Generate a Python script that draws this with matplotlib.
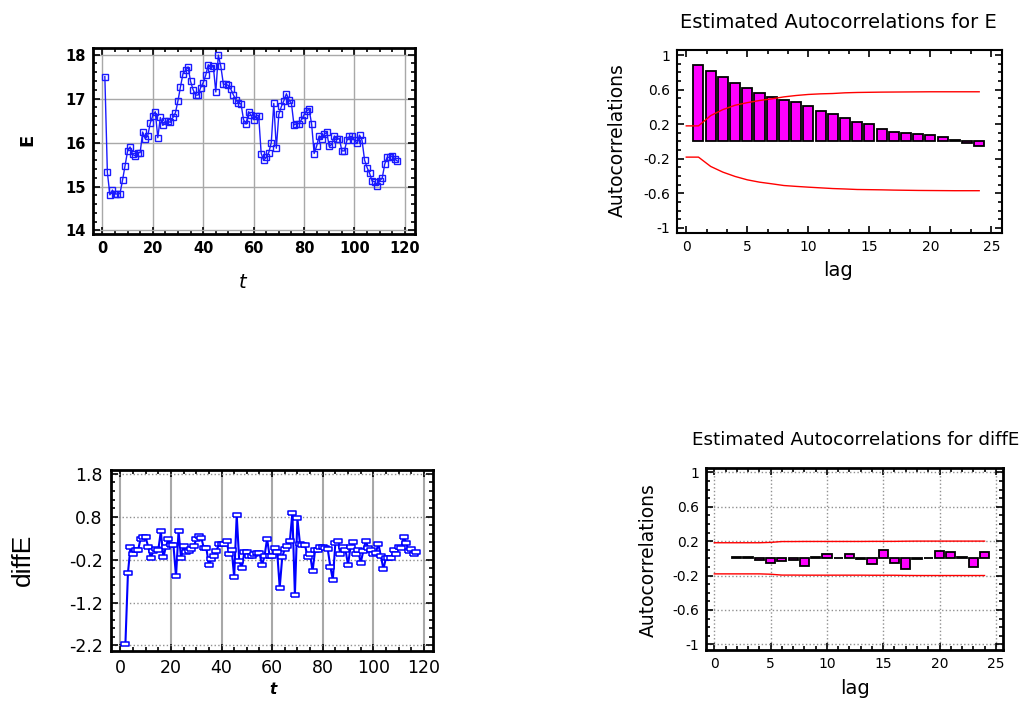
import numpy as np
import matplotlib
matplotlib.use("Agg")
import matplotlib.pyplot as plt
from matplotlib.ticker import MultipleLocator, AutoMinorLocator

plt.rcParams['font.family'] = ['DejaVu Sans']
plt.rcParams['axes.unicode_minus'] = False

# series E (t = 1..117)
E = [17.50, 15.32, 14.81, 14.92, 14.83, 14.83, 14.84, 15.14, 15.47, 15.80,
     15.90, 15.73, 15.70, 15.77, 15.77, 16.24, 16.09, 16.15, 16.44, 16.61,
     16.70, 16.11, 16.57, 16.39, 16.49, 16.48, 16.46, 16.57, 16.68, 16.95,
     17.27, 17.57, 17.64, 17.72, 17.39, 17.20, 17.08, 17.08, 17.25, 17.36,
     17.53, 17.77, 17.70, 17.74, 17.15, 17.99, 17.73, 17.33, 17.32, 17.30,
     17.21, 17.08, 16.97, 16.89, 16.88, 16.52, 16.42, 16.70, 16.62, 16.52,
     16.61, 16.61, 15.75, 15.60, 15.66, 15.77, 16.00, 16.89, 15.87, 16.64,
     16.82, 16.95, 17.11, 16.97, 16.89, 16.40, 16.43, 16.43, 16.52, 16.63,
     16.72, 16.76, 16.42, 15.75, 15.92, 16.15, 16.07, 16.19, 16.23, 15.91,
     15.96, 16.15, 16.07, 16.09, 15.81, 15.81, 16.05, 16.14, 16.14, 16.05,
     15.98, 16.17, 16.05, 15.60, 15.43, 15.30, 15.12, 15.11, 15.02, 15.13,
     15.19, 15.51, 15.67, 15.66, 15.70, 15.62, 15.58]
t_E = np.arange(1, len(E) + 1)

# series diffE (t = 2..117)
diffE = [-2.16, -0.51, 0.10, -0.08, 0.02, 0.02, 0.29, 0.32, 0.32, 0.10,
         -0.16, -0.01, 0.05, 0.03, 0.46, -0.15, 0.10, 0.28, 0.14, 0.13,
         -0.59, 0.46, -0.16, 0.11, -0.03, -0.01, 0.05, 0.11, 0.27, 0.35,
         0.31, 0.07, 0.07, -0.33, -0.18, -0.11, 0.01, 0.16, 0.16, 0.16,
         0.24, -0.08, 0.03, -0.61, 0.84, -0.24, -0.39, -0.03, -0.02, -0.12,
         -0.12, -0.08, -0.04, -0.04, -0.33, -0.12, 0.29, -0.11, -0.11, 0.07,
         -0.02, -0.85, -0.14, 0.05, 0.11, 0.23, 0.89, -1.02, 0.76, 0.17,
         0.14, 0.14, -0.14, -0.08, -0.47, 0.03, 0.03, 0.10, 0.10, 0.07,
         0.04, -0.36, -0.67, 0.19, 0.24, -0.08, 0.10, 0.03, -0.32, 0.10,
         0.21, -0.08, 0.03, -0.28, -0.01, 0.24, 0.07, 0.02, -0.07, -0.04,
         0.17, -0.12, -0.42, -0.16, -0.16, -0.16, 0.02, -0.08, 0.10, 0.07,
         0.33, 0.19, -0.01, 0.05, -0.08, -0.02]
t_diff = np.arange(2, len(diffE) + 2)

# autocorrelations of E
lags_E = np.arange(1, 25)
acf_E = [0.89, 0.82, 0.746, 0.676, 0.614, 0.564, 0.521, 0.479, 0.452, 0.409,
         0.359, 0.320, 0.273, 0.227, 0.200, 0.145, 0.114, 0.103, 0.091, 0.080,
         0.052, 0.021, -0.020, -0.048]
lim_lags_E = np.arange(0, 25)
upper_E = [0.181, 0.181, 0.30, 0.37, 0.42, 0.45, 0.475, 0.494, 0.517, 0.533,
           0.545, 0.552, 0.556, 0.564, 0.568, 0.570, 0.572, 0.573, 0.574, 0.575,
           0.576, 0.576, 0.576, 0.576, 0.576]
lower_E = [-0.181, -0.181, -0.289, -0.355, -0.405, -0.444, -0.471, -0.490, -0.510, -0.520,
           -0.529, -0.537, -0.545, -0.550, -0.556, -0.558, -0.560, -0.563, -0.565, -0.567,
           -0.568, -0.569, -0.570, -0.570, -0.570]

# autocorrelations of diffE
lags_d = np.arange(2, 25)
acf_d = [0.017, 0.015, -0.02, -0.05, -0.035, -0.025, -0.09, 0.018, 0.045, 0.002,
         0.045, -0.003, -0.07, 0.10, -0.05, -0.13, -0.01, -0.002, 0.09, 0.07,
         0.01, -0.10, 0.075]
lim_lags_d = np.arange(0, 25)
upper_d = [0.181, 0.181, 0.181, 0.181, 0.181, 0.185, 0.195, 0.195, 0.196, 0.196,
           0.196, 0.196, 0.196, 0.196, 0.197, 0.197, 0.197, 0.199, 0.200, 0.200,
           0.200, 0.200, 0.200, 0.200, 0.200]
lower_d = [-v for v in upper_d]

W, H = 1026, 705
fig = plt.figure(figsize=(W / 100, H / 100), dpi=100)


def box(l, t, r, b):
    # pixel box -> figure fraction rect
    return [l / W, 1 - b / H, (r - l) / W, (b - t) / H]


def ftext(x, y, s, **kw):
    fig.text(x / W, 1 - y / H, s, ha='center', va='center', **kw)


def frame(ax, lw):
    for sp in ax.spines.values():
        sp.set_linewidth(lw)
    ax.tick_params(which='both', direction='in', top=True, right=True, width=1.2)
    ax.tick_params(which='major', length=5)
    ax.tick_params(which='minor', length=3)


# --- E time series
ax1 = fig.add_axes(box(93, 48, 415, 234))
ax1.plot(t_E, E, color='#1a1aff', lw=1, marker='s', ms=4.5, mfc='none', mec='#1a1aff', mew=1)
ax1.set_xlim(-3.7, 124)
ax1.set_ylim(13.92, 18.15)
ax1.xaxis.set_major_locator(MultipleLocator(20))
ax1.yaxis.set_major_locator(MultipleLocator(1))
ax1.xaxis.set_minor_locator(AutoMinorLocator(4))
ax1.yaxis.set_minor_locator(AutoMinorLocator(5))
ax1.grid(True, color='#a8a8a8', lw=1)
ax1.set_axisbelow(True)
frame(ax1, 2)
ax1.tick_params(labelsize=10.5, pad=5)
for lb in ax1.get_xticklabels() + ax1.get_yticklabels():
    lb.set_fontweight('bold')
ftext(27, 140, 'E', rotation=90, fontsize=13, fontweight='bold')
ftext(243, 283, 't', fontsize=14, style='italic')

# --- ACF of E
ax2 = fig.add_axes(box(677, 50, 1002, 233))
ax2.bar(lags_E, acf_E, width=0.82, color='#ff00ff', edgecolor='black', lw=1.3)
ax2.plot(lim_lags_E, upper_E, color='red', lw=1)
ax2.plot(lim_lags_E, lower_E, color='red', lw=1)
ax2.set_xlim(-0.76, 25.87)
ax2.set_ylim(-1.06, 1.06)
ax2.xaxis.set_major_locator(MultipleLocator(5))
ax2.set_yticks([-1, -0.6, -0.2, 0.2, 0.6, 1])
ax2.set_yticklabels(['-1', '-0.6', '-0.2', '0.2', '0.6', '1'])
ax2.xaxis.set_minor_locator(AutoMinorLocator(3))
ax2.yaxis.set_minor_locator(AutoMinorLocator(4))
frame(ax2, 1.5)
ax2.tick_params(labelsize=10, pad=5)
ftext(838, 22, 'Estimated Autocorrelations for E', fontsize=14)
ftext(617, 140, 'Autocorrelations', rotation=90, fontsize=13.5)
ftext(838, 271, 'lag', fontsize=14)

# --- diffE time series
ax3 = fig.add_axes(box(111, 470, 433, 651))
rect = [(-1, -0.55), (1, -0.55), (1, 0.55), (-1, 0.55), (-1, -0.55)]
ax3.plot(t_diff, diffE, color='#0000ff', lw=1.5, marker=rect, ms=5.5, mfc='white', mec='#0000ff', mew=1.1)
ax3.set_xlim(-3.7, 123.6)
ax3.set_ylim(-2.33, 1.89)
ax3.xaxis.set_major_locator(MultipleLocator(20))
ax3.set_yticks([-2.2, -1.2, -0.2, 0.8, 1.8])
ax3.set_yticklabels(['-2.2', '-1.2', '-0.2', '0.8', '1.8'])
ax3.xaxis.set_minor_locator(AutoMinorLocator(4))
ax3.yaxis.set_minor_locator(AutoMinorLocator(5))
ax3.xaxis.grid(True, color='#a8a8a8', lw=1.5)
ax3.yaxis.grid(True, color='#909090', lw=1, ls=':')
ax3.set_axisbelow(True)
frame(ax3, 2)
ax3.tick_params(labelsize=12.5, pad=6)
ftext(23, 560, 'diffE', rotation=90, fontsize=19, family=['Liberation Sans', 'DejaVu Sans'])
ftext(273, 690, 't', fontsize=11, style='italic', fontweight='bold')

# --- ACF of diffE
ax4 = fig.add_axes(box(706, 468, 1003, 650))
ax4.bar(lags_d, acf_d, width=0.82, color='#ff00ff', edgecolor='black', lw=1.3)
ax4.plot(lim_lags_d, upper_d, color='red', lw=1)
ax4.plot(lim_lags_d, lower_d, color='red', lw=1)
ax4.set_xlim(-0.74, 25.64)
ax4.set_ylim(-1.066, 1.05)
ax4.xaxis.set_major_locator(MultipleLocator(5))
ax4.set_yticks([-1, -0.6, -0.2, 0.2, 0.6, 1])
ax4.set_yticklabels(['-1', '-0.6', '-0.2', '0.2', '0.6', '1'])
ax4.xaxis.set_minor_locator(AutoMinorLocator(5))
ax4.yaxis.set_minor_locator(AutoMinorLocator(4))
ax4.grid(True, color='#909090', lw=1, ls=':')
ax4.set_axisbelow(True)
frame(ax4, 2)
ax4.tick_params(labelsize=10, pad=5)
ftext(856, 440, 'Estimated Autocorrelations for diffE', fontsize=13.2)
ftext(648, 560, 'Autocorrelations', rotation=90, fontsize=13.5)
ftext(855, 688, 'lag', fontsize=14)

fig.savefig('out.png', dpi=100)
